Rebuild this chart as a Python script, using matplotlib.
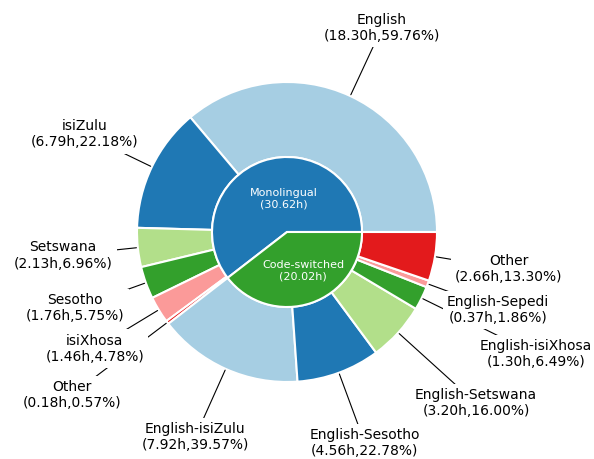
import numpy as np
import matplotlib
matplotlib.use("Agg")
import matplotlib.pyplot as plt

# inner ring
group_labels = ["Monolingual", "Code-switched"]
group_hours = [30.62, 20.02]

# outer ring, monolingual part
mono_labels = ["English", "isiZulu", "Setswana", "Sesotho", "isiXhosa", "Other"]
mono_hours = [18.30, 6.79, 2.13, 1.76, 1.46, 0.18]
mono_pct = [59.76, 22.18, 6.96, 5.75, 4.78, 0.57]

# outer ring, code-switched part
cs_labels = ["English-isiZulu", "English-Sesotho", "English-Setswana",
             "English-isiXhosa", "English-Sepedi", "Other"]
cs_hours = [7.92, 4.56, 3.20, 1.30, 0.37, 2.66]
cs_pct = [39.57, 22.78, 16.00, 6.49, 1.86, 13.30]

paired = ["#a6cee3", "#1f78b4", "#b2df8a", "#33a02c", "#fb9a99", "#e31a1c"]

fig = plt.figure(figsize=(5.94, 4.59), dpi=100)
ax = fig.add_axes([0, 0, 1, 1])

wp = dict(edgecolor="white", linewidth=1.5)
outer, _ = ax.pie(mono_hours + cs_hours, radius=1.0, colors=paired + paired,
                  wedgeprops=dict(width=0.5, **wp))
ax.pie(group_hours, radius=0.5, colors=[paired[1], paired[3]], wedgeprops=wp)

labels = [f"{n}\n({h:.2f}h,{p:.2f}%)" for n, h, p in
          zip(mono_labels + cs_labels, mono_hours + cs_hours, mono_pct + cs_pct)]
# how far out each label sits (most at 1.5, a few pushed further)
label_r = [1.5] * len(labels)
label_r[5] = 1.8
label_r[8] = 1.7
label_r[9] = 1.85

for w, txt, r in zip(outer, labels, label_r):
    ang = np.deg2rad((w.theta1 + w.theta2) / 2)
    x, y = np.cos(ang), np.sin(ang)
    ax.annotate("", xy=(x, y), xytext=(r * x, r * y), zorder=2,
                arrowprops=dict(arrowstyle="-", color="black", lw=0.8,
                                shrinkA=0, shrinkB=1))
    ax.text(r * x, r * y, txt, ha="center", va="center", fontsize=10, zorder=4,
            bbox=dict(boxstyle="square,pad=0.3", fc="white", ec="none"))

ax.text(-0.02, 0.22, f"{group_labels[0]}\n({group_hours[0]:.2f}h)", ha="center",
        va="center", fontsize=8, color="white", zorder=5)
ax.text(0.107, -0.26, f"{group_labels[1]}\n({group_hours[1]:.2f}h)", ha="center",
        va="center", fontsize=8, color="white", zorder=5)

ax.set_xlim(-287 / 150, (594 - 287) / 150)
ax.set_ylim(-(459 - 232) / 150, 232 / 150)
ax.set_aspect("equal", adjustable="box")
ax.axis("off")

fig.savefig("out.png", dpi=100)
